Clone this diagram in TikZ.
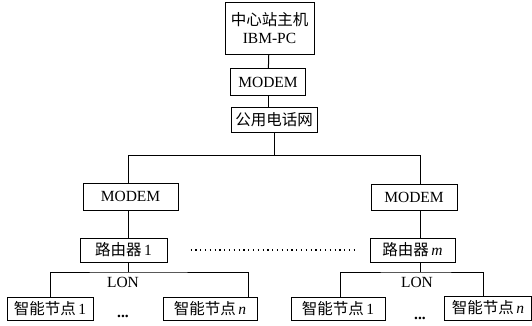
\documentclass[tikz,border=0pt]{standalone}
\usepackage{fontspec}
\setmainfont{Liberation Serif}
\newfontfamily\cjk{Noto Sans CJK SC}
\begin{document}
\begin{tikzpicture}[x=1pt,y=-1pt,
  box/.style={draw, line width=1pt, inner sep=0pt, align=center,
    font=\fontsize{15.5}{18}\selectfont, minimum height=25pt},
  ln/.style={line width=1pt},
  lbl/.style={inner sep=0pt, font=\fontsize{15.5}{17}\selectfont},
  dotline/.style={line width=1.2pt, dash pattern=on 1.2pt off 3.6pt}]
\useasboundingbox (0,0) rectangle (532,325);
% top column
\node[box, minimum width=89pt, minimum height=52pt] (host) at (269.5,28.5)
  {{\cjk 中心站主机}\\IBM-PC};
\node[box, minimum width=75pt, minimum height=27pt] (modem0) at (268,82) {MODEM};
\node[box, minimum width=86pt] (phone) at (274,119.5) {\cjk 公用电话网};
% branches
\node[box, minimum width=95pt, minimum height=27pt] (modemL) at (130.5,196.5) {MODEM};
\node[box, minimum width=87pt, minimum height=24pt] (routerL) at (123.5,250) {{\cjk 路由器}\,1};
\node[box, minimum width=86pt, minimum height=26pt] (modemR) at (414,197.5) {MODEM};
\node[box, minimum width=85pt, minimum height=24pt] (routerR) at (412.5,250) {{\cjk 路由器}\,\textit{m}};
% leaf nodes
\node[box, minimum width=86pt, minimum height=23pt] (l1) at (50,308.5) {{\cjk 智能节点}\,1};
\node[box, minimum width=94pt, minimum height=23pt] (ln) at (210,308.5) {{\cjk 智能节点}\,\textit{n}};
\node[box, minimum width=94pt, minimum height=23pt] (r1) at (338,309) {{\cjk 智能节点}\,1};
\node[box, minimum width=87pt, minimum height=24pt] (rn) at (488,308) {{\cjk 智能节点}\,\textit{n}};
% labels
\node[lbl] (lonL) at (123,282) {LON};
\node[lbl] (lonR) at (417,282) {LON};
\node[lbl] (dotsL) at (123,316) {\textbf{...}};
\node[lbl] (dotsR) at (420,318) {\textbf{...}};
% bus coordinates
\coordinate (busTop) at (274,155);
\coordinate (busL) at (128,272);
\coordinate (busR) at (420,272);
% connectors
\draw[ln] (host) -- (modem0);
\draw[ln] (modem0) -- (phone.north -| modem0);
\draw[ln] (phone) -- (busTop);
\draw[ln] (128,155) -- (420,155);
\draw[ln] (busTop -| 128,0) -- (modemL.north -| 128,0);
\draw[ln] (busTop -| 420,0) -- (modemR.north -| 420,0);
\draw[ln] (modemL.south -| 128,0) -- (routerL.north -| 128,0);
\draw[ln] (modemR.south -| 420,0) -- (routerR.north -| 420,0);
\draw[ln] (routerL.south -| busL) -- (busL);
\draw[ln] (routerR.south -| busR) -- (busR);
\draw[ln] (l1.north) |- (busL) -| (ln.north -| 248,0);
\draw[ln] (r1.north -| 340,0) |- (busR) -| (rn.north -| 483,0);
\draw[dotline] ([xshift=23pt]routerL.east) -- ([xshift=-11pt]routerR.west);
\end{tikzpicture}
\end{document}
